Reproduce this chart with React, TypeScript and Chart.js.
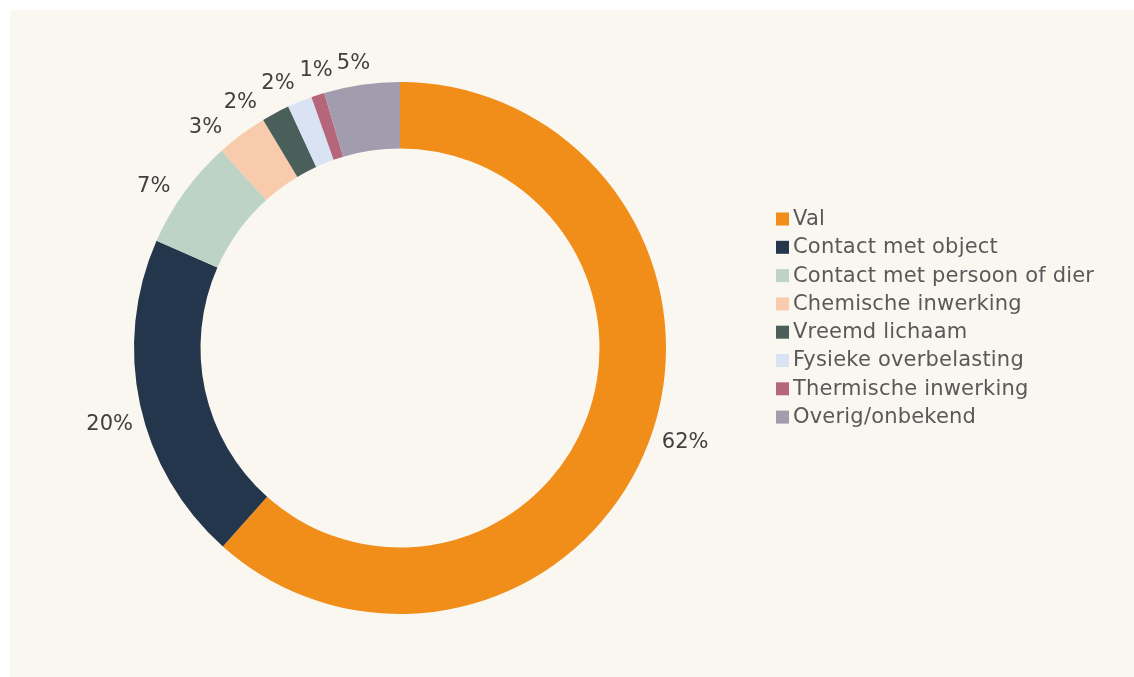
import React, { useEffect, useRef } from "react";
import { Chart, registerables } from "chart.js";

Chart.register(...registerables);

const categories = [
  "Val",
  "Contact met object",
  "Contact met persoon of dier",
  "Chemische inwerking",
  "Vreemd lichaam",
  "Fysieke overbelasting",
  "Thermische inwerking",
  "Overig/onbekend",
];
const values = [61.6, 20.0, 6.7, 3.1, 1.7, 1.5, 0.8, 4.6];
const colors = [
  "#F08E19",
  "#24364B",
  "#BDD3C6",
  "#F8CBAD",
  "#4A5E5A",
  "#DAE3F3",
  "#B5667A",
  "#A29CAF",
];

const FONT = "'DejaVu Sans', Verdana, sans-serif";
const FONT_SIZE = 21;

const labelPlugin = {
  id: "outsideLabels",
  afterDatasetsDraw(chart: any) {
    const ctx = chart.ctx;
    const meta = chart.getDatasetMeta(0);
    const data = chart.data.datasets[0].data as number[];
    const total = data.reduce((a, b) => a + b, 0);
    ctx.save();
    ctx.font = `${FONT_SIZE}px ${FONT}`;
    ctx.fillStyle = "#404040";
    ctx.textAlign = "center";
    ctx.textBaseline = "middle";
    const gap = 9;
    const h = 21;
    const shift = (-2.5 * Math.PI) / 180;
    const items = meta.data.map((arc: any, i: number) => {
      const txt = Math.round((data[i] / total) * 100) + "%";
      return {
        arc,
        txt,
        w: ctx.measureText(txt).width,
        a: (arc.startAngle + arc.endAngle) / 2 + shift,
      };
    });
    const pos = (it: any) => {
      const dx = Math.cos(it.a);
      const dy = Math.sin(it.a);
      const r =
        it.arc.outerRadius + gap + (it.w / 2) * Math.abs(dx) + (h / 2) * Math.abs(dy);
      return { x: it.arc.x + r * dx, y: it.arc.y + r * dy };
    };
    const overlap = (p: any, q: any, a: any, b: any) => {
      const m = 4;
      return (
        Math.abs(p.x - q.x) < (a.w + b.w) / 2 + m && Math.abs(p.y - q.y) < h + m
      );
    };
    for (let iter = 0; iter < 400; iter++) {
      let moved = false;
      for (let i = 0; i < items.length - 1; i++) {
        const a = items[i];
        const b = items[i + 1];
        if (overlap(pos(a), pos(b), a, b)) {
          a.a -= 0.002;
          b.a += 0.002;
          moved = true;
        }
      }
      if (!moved) break;
    }
    items.forEach((it: any) => {
      const p = pos(it);
      ctx.fillText(it.txt, p.x, p.y);
    });
    ctx.restore();
  },
};

const legendPlugin = {
  id: "customLegend",
  afterDraw(chart: any) {
    const ctx = chart.ctx;
    const labels = chart.data.labels as string[];
    const bg = chart.data.datasets[0].backgroundColor as string[];
    const x0 = 766;
    const y0 = 208.5;
    const rowH = 28.3;
    ctx.save();
    ctx.font = `${FONT_SIZE}px ${FONT}`;
    ctx.textAlign = "left";
    ctx.textBaseline = "middle";
    (ctx as any).letterSpacing = "0.2px";
    labels.forEach((lab, i) => {
      const cy = y0 + i * rowH;
      ctx.fillStyle = bg[i];
      ctx.fillRect(x0, cy - 6, 13, 13);
      ctx.fillStyle = "#595959";
      ctx.fillText(lab, x0 + 17, cy + 1);
    });
    ctx.restore();
  },
};

export default function App() {
  const ref = useRef<HTMLCanvasElement>(null);
  useEffect(() => {
    if (!ref.current) return;
    const chart = new Chart(ref.current, {
      type: "doughnut",
      data: {
        labels: categories,
        datasets: [
          {
            data: values,
            backgroundColor: colors,
            borderWidth: 0,
          },
        ],
      },
      options: {
        animation: false,
        responsive: false,
        cutout: "75%",
        layout: { padding: { left: 124, right: 468, top: 72, bottom: 63 } },
        plugins: {
          legend: { display: false },
          tooltip: { enabled: false },
        },
      },
      plugins: [labelPlugin, legendPlugin],
    });
    return () => chart.destroy();
  }, []);
  return (
    <div
      style={{
        position: "absolute",
        left: 10,
        top: 10,
        width: 1124,
        height: 667,
        background: "#FAF7F1",
      }}
    >
      <canvas ref={ref} width={1124} height={667} style={{ display: "block" }} />
    </div>
  );
}
